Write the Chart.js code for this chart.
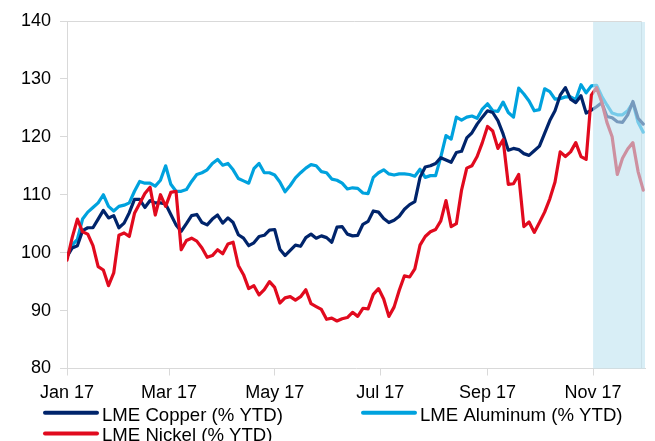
<!DOCTYPE html>
<html><head><meta charset="utf-8">
<script src="https://cdn.jsdelivr.net/npm/chart.js@4.4.1/dist/chart.umd.min.js"></script>
<style>html,body{margin:0;padding:0;background:#fff;} canvas{display:block;}</style>
</head><body>
<canvas id="c" width="655" height="441"></canvas>
<script>
// Day of year 2017 (0 = 1 Jan)
const days = [0,3,6,9,12,15,18,21,24,27,30,33,36,39,42,45,48,51,54,57,60,63,66,69,72,75,78,81,84,87,90,93,96,99,102,105,108,111,114,117,120,123,126,129,132,135,138,141,144,147,150,153,156,159,162,165,168,171,174,177,180,183,186,189,192,195,198,201,204,207,210,213,216,219,222,225,228,231,234,237,240,243,246,249,252,255,258,261,264,267,270,273,276,279,282,285,288,291,294,297,300,303,306,309,312,315,318,321,324,327,330,333];

const copper = [99.3,100.8,101.2,103.8,104.3,104.3,105.8,107.3,106.0,106.4,
104.3,105.1,106.9,109.2,109.2,107.8,109.0,108.6,108.6,108.4,
106.6,104.8,103.7,105.0,106.4,106.6,105.2,104.8,105.8,106.5,
105.1,106.0,105.2,103.1,102.5,101.2,101.7,102.8,103.0,103.9,
104.0,100.6,99.5,100.4,101.3,101.1,102.6,103.2,102.5,102.9,
102.6,101.8,104.4,104.5,103.2,102.9,103.0,104.9,105.4,107.2,
107.0,105.9,105.2,105.6,106.3,107.5,108.3,108.8,113.0,114.8,
115.0,115.4,116.4,116.0,115.6,117.3,117.5,119.8,120.7,122.2,
123.4,124.5,124.2,122.8,120.5,117.7,118.0,117.8,117.1,116.8,
117.6,118.4,120.6,122.8,124.5,127.2,128.5,126.5,125.9,127.1,
124.1,124.6,125.2,125.9,123.5,123.3,122.6,122.5,123.8,126.1,
123.2,122.2];

const aluminum = [99.3,101.3,102.3,105.8,107.0,107.8,108.6,110.0,108.0,107.2,
108.0,108.2,108.6,110.6,112.3,112.0,112.0,111.5,112.5,115.0,
111.8,110.6,110.6,110.9,112.3,113.5,113.8,114.3,115.4,116.1,
115.1,115.4,114.3,112.8,112.4,112.0,114.5,115.4,113.8,113.8,
113.4,112.2,110.5,111.6,112.9,113.8,114.6,115.2,115.0,114.0,
113.8,112.7,112.5,112.0,111.0,111.2,111.1,110.3,110.2,113.0,
113.8,114.3,113.6,113.4,113.6,113.6,113.5,113.2,114.4,113.0,
113.3,113.3,116.5,120.2,119.6,123.4,122.9,123.4,123.6,123.2,
124.8,125.7,124.5,124.4,126.0,124.2,123.4,128.4,127.4,126.2,
124.5,124.7,128.3,127.8,126.5,126.6,126.9,126.9,126.4,129.0,
127.6,128.8,128.9,127.0,125.5,124.1,123.8,123.8,124.5,125.9,
122.5,120.8];

const nickel = [98.7,102.6,105.8,103.6,103.2,101.2,97.6,97.0,94.3,96.5,
103.0,103.4,102.8,106.8,108.5,110.2,111.3,106.5,110.0,108.0,
110.4,110.6,100.5,102.1,102.5,102.0,100.8,99.2,99.5,100.5,
99.8,101.5,101.8,97.8,96.2,93.8,94.3,92.7,93.6,95.0,
94.0,91.3,92.2,92.4,91.8,92.4,93.6,91.2,90.7,90.2,
88.5,88.7,88.2,88.6,88.8,89.7,89.0,90.4,90.3,92.8,
93.8,92.0,89.0,90.6,93.5,96.0,95.8,97.2,101.3,102.8,
103.6,104.0,105.5,109.0,104.5,105.0,110.8,114.6,115.0,116.6,
119.0,121.8,121.0,118.0,119.5,111.8,111.9,113.5,104.5,105.3,
103.5,105.2,107.0,109.3,112.2,117.4,116.6,117.4,119.0,116.6,
116.1,127.2,128.5,126.0,122.5,120.0,113.5,116.3,117.9,119.0,
114.0,110.8];

const tickDays = [0,59,120,181,243,304];
const tickLabels = ['Jan 17','Mar 17','May 17','Jul 17','Sep 17','Nov 17'];
const seriesNames = ['LME Copper (% YTD)','LME Aluminum (% YTD)','LME Nickel (% YTD)'];
const shadeStartDay = 304;   // 1 Nov
const axisEndDay = 334;      // 1 Dec

const FONT = '"Liberation Sans", Arial, sans-serif';
Chart.defaults.font.family = FONT;
Chart.defaults.font.size = 18;
Chart.defaults.color = '#000';

const COL = {copper:'#00246B', aluminum:'#00A2DE', nickel:'#E10A1E'};
const AXIS = '#d9d9d9';

function pts(vals){ return vals.map((v,i)=>({x:days[i], y:v})); }

const framePlugin = {
  id:'frame',
  beforeDatasetsDraw(chart){
    const {ctx, chartArea} = chart;
    ctx.save();
    ctx.strokeStyle = AXIS; ctx.lineWidth = 1;
    ctx.beginPath();
    ctx.moveTo(chartArea.left, chartArea.top + 0.5);
    ctx.lineTo(chartArea.right - 3.5, chartArea.top + 0.5);
    ctx.lineTo(chartArea.right - 3.5, chartArea.bottom);
    ctx.stroke();
    ctx.restore();
  },
  afterDatasetsDraw(chart){
    const {ctx, chartArea, scales:{x}} = chart;
    const x0 = x.getPixelForValue(shadeStartDay);
    const x1 = x.getPixelForValue(axisEndDay);
    ctx.save();
    ctx.fillStyle = 'rgba(192,228,241,0.62)';
    ctx.fillRect(x0, chartArea.top + 1, x1 - x0, chartArea.bottom - chartArea.top - 1);
    ctx.restore();
  }
};

const legendPlugin = {
  id:'customLegend',
  afterDraw(chart){
    const {ctx} = chart;
    const items = [
      {ds:0, x:45, y:412.7, base:420.7},
      {ds:1, x:363, y:412.7, base:420.7},
      {ds:2, x:45, y:433.5, base:440.8}
    ];
    ctx.save();
    ctx.font = '18.6px ' + FONT;
    ctx.textBaseline = 'alphabetic';
    ctx.textAlign = 'left';
    items.forEach(it=>{
      const d = chart.data.datasets[it.ds];
      ctx.strokeStyle = d.borderColor;
      ctx.lineWidth = 4;
      ctx.lineCap = 'round';
      ctx.beginPath();
      ctx.moveTo(it.x, it.y);
      ctx.lineTo(it.x + 52, it.y);
      ctx.stroke();
      ctx.fillStyle = '#000';
      ctx.fillText(d.label, it.x + 57, it.base);
    });
    ctx.restore();
  }
};

new Chart(document.getElementById('c'), {
  type:'line',
  data:{
    datasets:[
      {label:seriesNames[0], data:pts(copper), borderColor:COL.copper, order:1},
      {label:seriesNames[1], data:pts(aluminum), borderColor:COL.aluminum, order:2},
      {label:seriesNames[2], data:pts(nickel), borderColor:COL.nickel, order:0}
    ]
  },
  options:{
    responsive:false,
    devicePixelRatio:1,
    animation:false,
    elements:{
      line:{borderWidth:3.2, tension:0, fill:false, borderJoinStyle:'round', borderCapStyle:'round'},
      point:{radius:0, hoverRadius:0}
    },
    layout:{padding:{top:21, right:10, left:0, bottom:0}},
    plugins:{legend:{display:false}, tooltip:{enabled:false}},
    scales:{
      x:{
        type:'linear', min:0, max:axisEndDay,
        afterBuildTicks(scale){ scale.ticks = tickDays.map(v=>({value:v})); },
        afterFit(scale){ scale.height = 72.5; },
        ticks:{autoSkip:false, maxRotation:0, padding:7,
          callback(v){ const i = tickDays.indexOf(v); return i>=0 ? tickLabels[i] : ''; }},
        grid:{drawOnChartArea:false, drawTicks:true, tickLength:7, color:AXIS},
        border:{display:true, color:AXIS}
      },
      y:{
        min:80, max:140,
        afterFit(scale){ scale.width = 67; },
        ticks:{stepSize:10, padding:9},
        grid:{drawOnChartArea:false, drawTicks:true, tickLength:7, color:AXIS},
        border:{display:true, color:AXIS}
      }
    }
  },
  plugins:[framePlugin, legendPlugin]
});
</script>
</body></html>
